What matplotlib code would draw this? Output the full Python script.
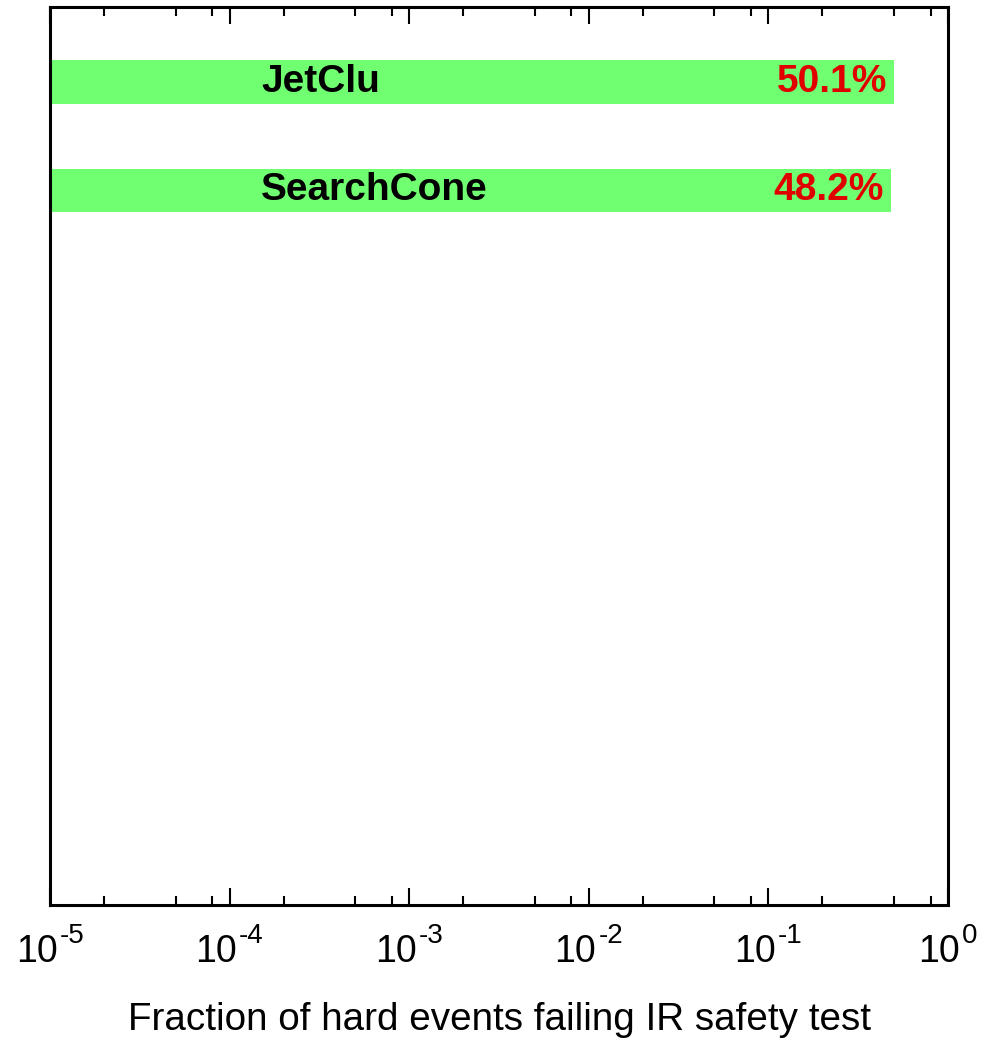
import matplotlib
matplotlib.use("Agg")
import matplotlib.pyplot as plt
from matplotlib.ticker import LogLocator, NullFormatter, FixedLocator

plt.rcParams['font.family'] = ['Liberation Sans', 'DejaVu Sans']

# Data
algorithms = ["JetClu", "SearchCone"]
fractions = [0.501, 0.482]
pct_labels = ["50.1%", "48.2%"]
xmin, xmax = 1e-5, 1.0
decade_ticks = [1e-5, 1e-4, 1e-3, 1e-2, 1e-1, 1e0]
decade_exps = ["-5", "-4", "-3", "-2", "-1", "0"]

fig = plt.figure(figsize=(9.92, 10.39), dpi=100)
ax = fig.add_axes([50/992, 134/1039, 898/992, 898/1039])

ypos = list(range(len(algorithms)))
widths = [f - xmin for f in fractions]
ax.barh(ypos, widths, left=xmin, height=0.4, color="#70ff70", zorder=1)

for y, name, f, p in zip(ypos, algorithms, fractions, pct_labels):
    ax.text(1.5e-4, y, name, fontsize=28, fontweight="bold", color="black",
            ha="left", va="center", zorder=3)
    ax.annotate(p, xy=(f, y), xytext=(-5, 0), textcoords="offset points",
                fontsize=28, fontweight="bold", color="#e00000",
                ha="right", va="center", zorder=3)

ax.set_xscale("log")
ax.set_xlim(xmin, xmax)
ax.set_ylim(7.59, -0.69)

ax.xaxis.set_major_locator(FixedLocator(decade_ticks))
ax.xaxis.set_major_formatter(NullFormatter())
ax.xaxis.set_minor_locator(LogLocator(base=10, subs=(2, 5, 8)))
ax.xaxis.set_minor_formatter(NullFormatter())
ax.set_yticks([])

ax.tick_params(axis="x", which="major", direction="in", length=12, width=1.5, top=True)
ax.tick_params(axis="x", which="minor", direction="in", length=6.5, width=1.5, top=True)

for s in ax.spines.values():
    s.set_linewidth(2.2)

# tick labels drawn as "10" plus a raised exponent
fig.canvas.draw()
r = fig.canvas.get_renderer()
gap = 2
for t, e in zip(decade_ticks, decade_exps):
    base = ax.annotate("10", xy=(t, 0), xycoords=("data", "axes fraction"),
                       xytext=(0, -57), textcoords="offset pixels",
                       fontsize=27, ha="left", va="baseline")
    sup = ax.annotate(e, xy=(t, 0), xycoords=("data", "axes fraction"),
                      xytext=(0, -38), textcoords="offset pixels",
                      fontsize=20, ha="left", va="baseline")
    wb = base.get_window_extent(r).width
    ws = sup.get_window_extent(r).width
    start = -(wb + gap + ws) / 2
    base.xyann = (start, -57)
    sup.xyann = (start + wb + gap, -38)

ax.annotate("Fraction of hard events failing IR safety test", xy=(0.5, 0),
            xycoords="axes fraction", xytext=(0, -125), textcoords="offset pixels",
            fontsize=27.8, ha="center", va="baseline")

fig.savefig("out.png", dpi=100)
